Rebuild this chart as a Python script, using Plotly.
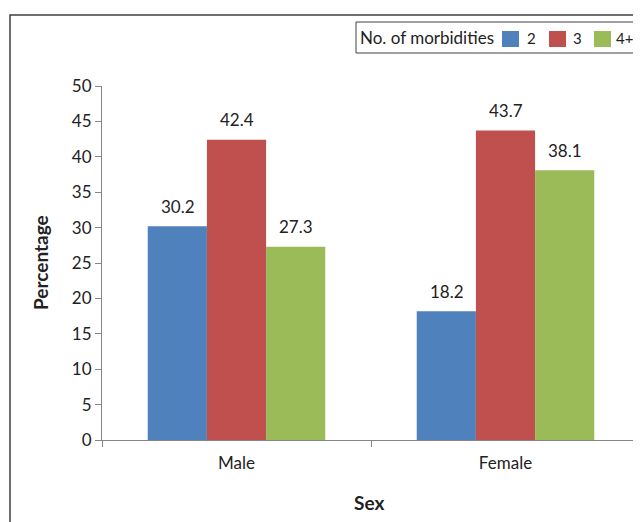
import plotly.graph_objects as go

categories = ["Male", "Female"]
series_names = ["2", "3", "4+"]
values_2 = [30.2, 18.2]
values_3 = [42.4, 43.7]
values_4 = [27.3, 38.1]
colors = ["#4F81BD", "#C0504D", "#9BBB59"]
y_ticks = [0, 5, 10, 15, 20, 25, 30, 35, 40, 45, 50]
legend_title = "No. of morbidities"

FONT = "Lato"
# page body has ~7px offset; plot area in screenshot: x 101..639, y 85..439
PL, PR, PT, PB = 101, 639, 85, 439
def px(X):
    return (X - PL) / (PR - PL)
def py(Y):
    return (PB - Y) / (PB - PT)

fig = go.Figure()
for name, vals, col in zip(series_names, [values_2, values_3, values_4], colors):
    fig.add_trace(go.Bar(x=categories, y=vals, name=name, showlegend=False,
                         marker=dict(color=col, line=dict(width=0))))

# data labels
offsets = {"2": -1, "3": 0, "4+": 1}
for name, vals in zip(series_names, [values_2, values_3, values_4]):
    for i, v in enumerate(vals):
        fig.add_annotation(x=i, y=v, xref="x", yref="y", text=f"{v}", showarrow=False,
                           xshift=offsets[name] * 59, yshift=20,
                           yanchor="middle", font=dict(family=FONT, size=17, color="#222222"))

# outer chart border
fig.add_shape(type="rect", xref="paper", yref="paper", x0=px(9), x1=px(660), y0=py(540), y1=py(14),
              line=dict(color="#404040", width=1.5), layer="below")

# custom legend
fig.add_shape(type="rect", xref="paper", yref="paper", x0=px(355), x1=px(660), y0=py(52), y1=py(21),
              line=dict(color="#404040", width=1), fillcolor="white")
fig.add_annotation(xref="paper", yref="paper", x=px(357), y=py(37), text=legend_title, showarrow=False,
                   xanchor="left", yanchor="middle", font=dict(family=FONT, size=17, color="#222222"))
sw_x = [501, 548, 593]
tx_x = [524, 570, 613]
for name, col, sx, tx in zip(series_names, colors, sw_x, tx_x):
    fig.add_shape(type="rect", xref="paper", yref="paper", x0=px(sx), x1=px(sx + 17), y0=py(46), y1=py(30),
                  line=dict(width=0), fillcolor=col)
    fig.add_annotation(xref="paper", yref="paper", x=px(tx), y=py(37), text=name, showarrow=False,
                       xanchor="left", yanchor="middle", font=dict(family=FONT, size=15, color="#222222"))

# axis titles
fig.add_annotation(xref="paper", yref="paper", x=px(39), y=py(262), text="<b>Percentage</b>", textangle=-90,
                   showarrow=False, xanchor="center", yanchor="middle", font=dict(family=FONT, size=19, color="#222222"))
fig.add_annotation(xref="paper", yref="paper", x=px(368), y=py(501), text="<b>Sex</b>",
                   showarrow=False, xanchor="center", yanchor="middle", font=dict(family=FONT, size=19, color="#222222"))

OFF = 7
W, H = 641 - OFF, 522 - OFF
fig.update_layout(
    width=W, height=H,
    margin=dict(l=PL - OFF, r=W - (PR - OFF), t=PT - OFF, b=H - (PB - OFF), autoexpand=False),
    paper_bgcolor="white", plot_bgcolor="white",
    barmode="group", bargap=0.34, bargroupgap=0,
    font=dict(family=FONT, size=17, color="#222222"),
    showlegend=False,
    xaxis=dict(showline=True, linecolor="#868686", linewidth=1, ticks="outside", tickson="boundaries",
               ticklen=6, tickcolor="#868686", tickfont=dict(size=17), automargin=False,
               ticklabelstandoff=8),
    yaxis=dict(range=[0, 50], tickvals=y_ticks, showline=True, linecolor="#868686", linewidth=1,
               ticks="outside", ticklen=6, tickcolor="#868686", showgrid=False, zeroline=False,
               tickfont=dict(size=17), automargin=False),
)

fig.write_html("out.html")
